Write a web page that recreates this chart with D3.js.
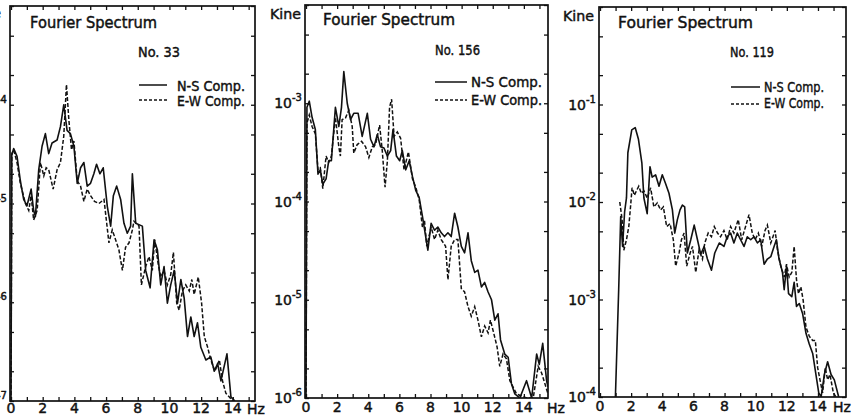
<!DOCTYPE html>
<html>
<head>
<meta charset="utf-8">
<script src="https://cdn.jsdelivr.net/npm/d3@7"></script>
<style>
  body { margin: 0; background: #fff; }
  svg { display: block; }
  text { font-family: "DejaVu Sans", sans-serif; fill: #111; stroke: #111; stroke-width: 0.45px; }
</style>
</head>
<body>
<div id="chart"></div>
<script>
// --- values (frequency in Hz, amplitude in Kine) ---
const xTickLabels = [0, 2, 4, 6, 8, 10, 12, 14];
const stationNames = ["No. 33", "No. 156", "No. 119"];
const seriesNames = ["N-S Comp.", "E-W Comp."];
const decades33 = [-7, -6, -5, -4, -3];
const decades156 = [-6, -5, -4, -3, -2];
const decades119 = [-4, -3, -2, -1, 0];

const ns33Freq = [0, 0.05, 0.17, 0.38, 0.59, 0.80, 1.01, 1.27, 1.43, 1.54, 1.75, 1.96, 2.17, 2.38, 2.59, 2.91, 3.12, 3.33, 3.54, 3.75, 3.97, 4.18, 4.39, 4.60, 4.81, 5.02, 5.23, 5.40, 5.61, 5.82, 6.08, 6.29, 6.46, 6.67, 6.92, 7.13, 7.34, 7.55, 7.66, 7.87, 8.29, 8.50, 8.78, 9.03, 9.24, 9.45, 9.66, 9.87, 10.08, 10.30, 10.51, 10.72, 10.93, 11.14, 11.35, 11.56, 11.77, 11.98, 12.30, 12.61, 12.83, 13.04, 13.25, 13.63, 13.88, 14.13];
const ns33Amp = [1.0e-7, 3.1e-5, 3.6e-5, 3.0e-5, 1.7e-5, 1.1e-5, 9.5e-6, 1.4e-5, 8.5e-6, 7.4e-6, 2.2e-5, 3.8e-5, 5.1e-5, 3.2e-5, 4.1e-5, 4.4e-5, 6.0e-5, 1.0e-4, 5.5e-5, 5.1e-5, 3.8e-5, 1.6e-5, 2.3e-5, 2.6e-5, 1.5e-5, 1.6e-5, 2.0e-5, 2.5e-5, 2.0e-5, 2.3e-5, 9.3e-6, 5.9e-6, 1.2e-5, 1.5e-5, 1.1e-5, 6.3e-6, 5.0e-6, 5.9e-6, 2.0e-5, 6.3e-6, 5.9e-6, 2.1e-6, 1.4e-6, 4.3e-6, 3.4e-6, 1.5e-6, 2.3e-6, 9.8e-7, 1.5e-6, 2.1e-6, 9.8e-7, 1.7e-6, 1.1e-6, 4.5e-7, 7.1e-7, 4.5e-7, 6.2e-7, 3.5e-7, 2.6e-7, 2.8e-7, 2.0e-7, 2.4e-7, 1.6e-7, 3.0e-7, 1.1e-7, 1.0e-7];
const ew33Freq = [0, 0.05, 0.17, 0.38, 0.59, 0.91, 1.12, 1.27, 1.43, 1.65, 1.86, 2.07, 2.22, 2.38, 2.66, 2.91, 3.12, 3.33, 3.50, 3.65, 3.82, 3.97, 4.18, 4.39, 4.60, 4.81, 5.02, 5.27, 5.55, 5.87, 6.18, 6.39, 6.60, 6.81, 7.03, 7.23, 7.45, 7.66, 7.76, 8.08, 8.23, 8.50, 8.71, 8.92, 9.07, 9.28, 9.45, 9.66, 9.87, 10.08, 10.25, 10.46, 10.61, 10.82, 11.03, 11.25, 11.41, 11.56, 11.82, 12.03, 12.20, 12.41, 12.61, 12.87, 13.15, 13.35, 13.56, 13.78, 14.0];
const ew33Amp = [1.0e-7, 3.2e-5, 3.5e-5, 2.6e-5, 1.6e-5, 1.0e-5, 8.5e-6, 1.2e-5, 6.8e-6, 8.5e-6, 2.6e-5, 1.9e-5, 2.3e-5, 2.2e-5, 1.4e-5, 2.2e-5, 2.6e-5, 4.8e-5, 1.6e-4, 7.1e-5, 3.5e-5, 4.3e-5, 1.7e-5, 1.5e-5, 1.05e-5, 1.4e-5, 1.2e-5, 1.05e-5, 1.0e-5, 1.1e-5, 4.0e-6, 5.4e-6, 4.3e-6, 3.4e-6, 2.1e-6, 3.6e-6, 4.0e-6, 5.4e-6, 6.6e-6, 5.9e-6, 1.5e-6, 2.3e-6, 2.9e-6, 2.1e-6, 4.3e-6, 2.5e-6, 1.8e-6, 2.1e-6, 1.5e-6, 1.9e-6, 3.2e-6, 9.8e-7, 8.3e-7, 1.3e-6, 1.5e-6, 1.3e-6, 1.7e-6, 1.2e-6, 1.8e-6, 9.8e-7, 4.5e-7, 3.5e-7, 2.6e-7, 2.0e-7, 2.6e-7, 1.6e-7, 1.2e-7, 1.1e-7, 1.0e-7];

const ns156Freq = [0, 0.06, 0.21, 0.39, 0.60, 0.77, 0.92, 1.08, 1.29, 1.46, 1.63, 1.89, 2.11, 2.28, 2.43, 2.65, 2.86, 3.07, 3.35, 3.61, 3.94, 4.15, 4.37, 4.58, 4.79, 5.01, 5.23, 5.44, 5.59, 5.81, 6.02, 6.19, 6.41, 6.63, 6.84, 7.05, 7.27, 7.48, 7.83, 8.04, 8.26, 8.47, 8.69, 8.90, 9.12, 9.33, 9.55, 9.76, 9.98, 10.19, 10.41, 10.62, 10.84, 11.05, 11.27, 11.48, 11.70, 11.92, 12.13, 12.34, 12.50, 12.77, 12.99, 13.20, 13.42, 13.74, 14.17, 14.50, 14.82, 14.99, 15.21, 15.46, 15.55];
const ns156Amp = [1.0e-6, 9.1e-4, 1.05e-3, 7.2e-4, 5.4e-4, 1.9e-4, 2.1e-4, 1.5e-4, 1.7e-4, 2.6e-4, 2.6e-4, 9.1e-4, 5.8e-4, 9.1e-4, 2.1e-3, 1.0e-3, 6.8e-4, 7.9e-4, 7.9e-4, 4.6e-4, 7.9e-4, 4.3e-4, 3.6e-4, 4.8e-4, 3.6e-4, 3.5e-4, 2.9e-4, 3.3e-4, 5.4e-4, 2.9e-4, 2.6e-4, 3.3e-4, 2.1e-4, 2.6e-4, 1.8e-4, 1.3e-4, 1.1e-4, 7.1e-5, 3.2e-5, 6.0e-5, 5.1e-5, 5.5e-5, 4.8e-5, 4.4e-5, 4.8e-5, 4.4e-5, 7.6e-5, 5.5e-5, 3.5e-5, 3.0e-5, 4.8e-5, 2.5e-5, 1.9e-5, 2.0e-5, 1.35e-5, 1.5e-5, 1.2e-5, 1.0e-5, 6.2e-6, 7.2e-6, 3.9e-6, 2.8e-6, 2.6e-6, 1.4e-6, 1.1e-6, 1.0e-6, 1.5e-6, 1.0e-6, 2.8e-6, 2.2e-6, 3.6e-6, 1.5e-6, 1.3e-6];
const ew156Freq = [0, 0.06, 0.21, 0.39, 0.60, 0.77, 0.92, 1.08, 1.29, 1.46, 1.63, 1.89, 2.11, 2.21, 2.32, 2.54, 2.75, 2.97, 3.07, 3.29, 3.57, 3.83, 4.04, 4.26, 4.47, 4.73, 4.90, 5.08, 5.23, 5.37, 5.50, 5.66, 5.87, 6.08, 6.30, 6.58, 6.84, 7.05, 7.27, 7.48, 7.61, 7.76, 8.04, 8.26, 8.47, 8.69, 8.97, 9.12, 9.33, 9.55, 9.76, 9.98, 10.19, 10.41, 10.62, 10.84, 11.05, 11.27, 11.48, 11.70, 11.85, 12.06, 12.28, 12.45, 12.66, 12.88, 13.10, 13.53, 14.17, 14.60, 14.92, 15.14, 15.35, 15.55];
const ew156Amp = [1.0e-6, 6.3e-4, 7.6e-4, 5.8e-4, 4.9e-4, 2.1e-4, 2.2e-4, 1.35e-4, 2.9e-4, 2.5e-4, 2.9e-4, 7.2e-4, 3.6e-4, 2.9e-4, 6.8e-4, 7.1e-4, 8.5e-4, 5.8e-4, 3.1e-4, 3.8e-4, 4.1e-4, 3.6e-4, 2.8e-4, 3.6e-4, 3.8e-4, 6.0e-4, 3.3e-4, 1.4e-4, 2.6e-4, 9.1e-4, 1.1e-3, 4.6e-4, 5.1e-4, 4.4e-4, 2.1e-4, 3.2e-4, 1.7e-4, 1.4e-4, 1.05e-4, 5.5e-5, 6.5e-5, 3.5e-5, 5.5e-5, 4.1e-5, 5.1e-5, 4.1e-5, 3.5e-5, 1.6e-5, 3.5e-5, 4.1e-5, 4.1e-5, 1.3e-5, 1.2e-5, 8.5e-6, 6.8e-6, 8.5e-6, 6.2e-6, 4.2e-6, 5.4e-6, 4.6e-6, 6.2e-6, 4.6e-6, 3.3e-6, 2.1e-6, 2.8e-6, 2.5e-6, 1.5e-6, 1.1e-6, 1.0e-6, 1.0e-6, 2.1e-6, 1.8e-6, 1.4e-6, 1.1e-6];

const ns119Freq = [0.99, 1.20, 1.33, 1.45, 1.58, 1.70, 1.79, 2.04, 2.26, 2.47, 2.69, 2.82, 3.03, 3.21, 3.35, 3.57, 3.79, 4.00, 4.21, 4.43, 4.65, 4.80, 4.97, 5.14, 5.29, 5.44, 5.61, 5.83, 6.05, 6.26, 6.47, 6.69, 6.90, 7.16, 7.37, 7.66, 7.96, 8.17, 8.39, 8.60, 8.82, 9.03, 9.25, 9.46, 9.68, 9.89, 10.11, 10.32, 10.54, 10.75, 10.97, 11.18, 11.33, 11.50, 11.72, 11.83, 11.98, 12.11, 12.32, 12.47, 12.62, 12.80, 13.01, 13.23, 13.44, 13.66, 13.87, 14.05, 14.20, 14.41, 14.62, 14.84, 15.05, 15.33];
const ns119Amp = [1.0e-4, 1.26e-3, 7.1e-3, 3.5e-3, 7.9e-3, 1.1e-2, 3.2e-2, 5.5e-2, 5.8e-2, 4.4e-2, 2.5e-2, 1.1e-2, 7.6e-3, 2.3e-2, 1.8e-2, 1.9e-2, 1.45e-2, 1.9e-2, 1.55e-2, 1.23e-2, 8.3e-3, 4.8e-3, 6.6e-3, 8.3e-3, 9.3e-3, 8.9e-3, 3.0e-3, 4.1e-3, 5.8e-3, 4.1e-3, 2.9e-3, 3.5e-3, 2.6e-3, 2.0e-3, 3.0e-3, 3.8e-3, 3.5e-3, 4.4e-3, 4.8e-3, 3.8e-3, 4.8e-3, 4.1e-3, 3.5e-3, 4.4e-3, 4.1e-3, 4.4e-3, 3.8e-3, 4.1e-3, 2.3e-3, 2.6e-3, 2.75e-3, 3.5e-3, 4.1e-3, 2.6e-3, 1.9e-3, 1.26e-3, 2.2e-3, 1.15e-3, 1.07e-3, 1.5e-3, 8.5e-4, 9.1e-4, 7.2e-4, 4.5e-4, 3.5e-4, 2.8e-4, 1.7e-4, 1.1e-4, 1.0e-4, 1.7e-4, 2.3e-4, 1.7e-4, 1.5e-4, 1.0e-4];
const ew119Freq = [1.27, 1.42, 1.53, 1.70, 1.85, 1.96, 2.06, 2.21, 2.34, 2.49, 2.65, 2.82, 3.03, 3.25, 3.46, 3.68, 3.89, 4.07, 4.28, 4.50, 4.71, 4.86, 5.08, 5.23, 5.40, 5.57, 5.79, 5.94, 6.15, 6.36, 6.58, 6.73, 6.95, 7.16, 7.34, 7.55, 7.74, 7.96, 8.17, 8.39, 8.60, 8.88, 9.10, 9.35, 9.57, 9.78, 9.96, 10.17, 10.39, 10.60, 10.75, 10.97, 11.25, 11.40, 11.61, 11.83, 11.98, 12.15, 12.32, 12.47, 12.62, 12.75, 12.90, 13.05, 13.23, 13.44, 13.66, 13.83, 13.98, 14.13, 14.30, 14.47, 14.62, 14.77, 14.99, 15.16];
const ew119Amp = [1.0e-2, 6.6e-3, 3.2e-3, 4.1e-3, 5.6e-3, 8.9e-3, 1.4e-2, 1.17e-2, 1.3e-2, 1.45e-2, 1.23e-2, 1.3e-2, 1.1e-2, 1.4e-2, 8.9e-3, 9.8e-3, 8.3e-3, 8.9e-3, 5.6e-3, 6.0e-3, 4.1e-3, 2.2e-3, 3.0e-3, 4.1e-3, 4.8e-3, 2.2e-3, 3.0e-3, 3.5e-3, 1.9e-3, 3.2e-3, 2.6e-3, 3.8e-3, 4.8e-3, 4.4e-3, 5.6e-3, 4.8e-3, 4.4e-3, 5.1e-3, 4.1e-3, 5.6e-3, 4.8e-3, 6.6e-3, 4.1e-3, 5.6e-3, 7.4e-3, 4.8e-3, 4.1e-3, 4.8e-3, 3.5e-3, 5.1e-3, 5.8e-3, 3.8e-3, 5.1e-3, 3.2e-3, 2.2e-3, 1.7e-3, 2.3e-3, 1.7e-3, 1.9e-3, 3.5e-3, 1.6e-3, 1.15e-3, 1.35e-3, 9.8e-4, 5.2e-4, 4.2e-4, 3.8e-4, 3.8e-4, 2.0e-4, 1.5e-4, 1.1e-4, 2.0e-4, 1.5e-4, 1.7e-4, 1.1e-4, 1.0e-4];

// --- panel geometry (pixels) ---
const panels = [
  { name: stationNames[0], decades: decades33, ns: d3.zip(ns33Freq, ns33Amp), ew: d3.zip(ew33Freq, ew33Amp),
    l: 10, r: 255, t: 6, b: 401, x0: 11, xMax: 15.4,
    title: [30, 28, 127], no: [138, 57, 42], leg: [139, 167, 85, 100, 177, 91, 106, 68], kine: [-30, 18], hz: [247, 414], tickY: 402 },
  { name: stationNames[1], decades: decades156, ns: d3.zip(ns156Freq, ns156Amp), ew: d3.zip(ew156Freq, ew156Amp),
    l: 305, r: 548, t: 5, b: 398, x0: 306, xMax: 15.55,
    title: [323, 25, 132], no: [435, 55, 45], leg: [435, 467, 82, 100, 471, 87, 105, 71], kine: [270, 19], hz: [547, 413], tickY: 401 },
  { name: stationNames[2], decades: decades119, ns: d3.zip(ns119Freq, ns119Amp), ew: d3.zip(ew119Freq, ew119Amp),
    l: 599, r: 846, t: 7, b: 397, x0: 600, xMax: 15.8,
    title: [618, 28, 135], no: [730, 57, 44], leg: [731, 760, 87, 104, 764, 92, 108, 60], kine: [563, 21], hz: [833, 412], tickY: 400 }
];

const svg = d3.select("#chart").append("svg")
  .attr("width", 854)
  .attr("height", 415);

panels.forEach((p, i) => {
  const top = p.decades[p.decades.length - 1];
  const x = d3.scaleLinear().domain([0, p.xMax]).range([p.x0, p.r]);
  const y = d3.scaleLog().domain([10 ** p.decades[0], 10 ** top]).range([p.b, p.t]);

  const g = svg.append("g");

  svg.append("clipPath").attr("id", "clip" + i)
    .append("rect").attr("x", p.l).attr("y", p.t).attr("width", p.r - p.l).attr("height", p.b - p.t);

  // y ticks at 1, 2, 5 per decade
  const yTicks = [];
  p.decades.forEach(d => [1, 2, 5].forEach(m => {
    if (d < top || m === 1) yTicks.push(m * 10 ** d);
  }));
  const hzTicks = d3.range(0, Math.floor(p.xMax) + 1);

  g.append("g").attr("transform", `translate(0,${p.b})`)
    .call(d3.axisBottom(x).tickValues(hzTicks).tickSize(-4).tickFormat(""))
    .call(a => a.select(".domain").remove());
  g.append("g").attr("transform", `translate(0,${p.t})`)
    .call(d3.axisTop(x).tickValues(hzTicks).tickSize(-4).tickFormat(""))
    .call(a => a.select(".domain").remove());
  g.append("g").attr("transform", `translate(${p.l},0)`)
    .call(d3.axisLeft(y).tickValues(yTicks).tickSize(-4).tickFormat(""))
    .call(a => a.select(".domain").remove());
  g.append("g").attr("transform", `translate(${p.r},0)`)
    .call(d3.axisRight(y).tickValues(yTicks).tickSize(-4).tickFormat(""))
    .call(a => a.select(".domain").remove());
  g.selectAll(".tick line").attr("stroke", "#111").attr("stroke-width", 1.3);

  // frame
  g.append("rect")
    .attr("x", p.l).attr("y", p.t)
    .attr("width", p.r - p.l).attr("height", p.b - p.t)
    .attr("fill", "none").attr("stroke", "#111").attr("stroke-width", 1.7);

  // x labels
  g.selectAll(".xl").data(xTickLabels).enter().append("text")
    .attr("x", d => x(d))
    .attr("y", p.tickY)
    .attr("dy", "0.8em")
    .attr("text-anchor", "middle")
    .style("font-size", "14px")
    .text(d => d);
  g.append("text").attr("x", p.hz[0]).attr("y", p.hz[1])
    .style("font-size", "14px").text("Hz");

  // y labels (the top decade is left unlabelled, as in the figure)
  const yl = g.selectAll(".yl").data(p.decades.slice(0, -1)).enter().append("text")
    .attr("x", p.l - 3)
    .attr("y", d => y(10 ** d) + 5)
    .attr("text-anchor", "end")
    .style("font-size", "14px");
  yl.append("tspan").text("10");
  yl.append("tspan").attr("dy", -7).style("font-size", "10px").text(d => "-" + Math.abs(d));

  g.append("text").attr("x", p.kine[0]).attr("y", p.kine[1])
    .attr("textLength", 31).attr("lengthAdjust", "spacingAndGlyphs")
    .style("font-size", "14px").text("Kine");

  // curves
  const line = d3.line().x(d => x(d[0])).y(d => y(d[1]));
  const curves = g.append("g").attr("clip-path", `url(#clip${i})`);
  curves.append("path").datum(p.ns)
    .attr("d", line).attr("fill", "none")
    .attr("stroke", "#111").attr("stroke-width", 1.6).attr("stroke-linejoin", "round");
  curves.append("path").datum(p.ew)
    .attr("d", line).attr("fill", "none")
    .attr("stroke", "#111").attr("stroke-width", 1.5).attr("stroke-dasharray", "4,2");

  // titles
  g.append("text").attr("x", p.title[0]).attr("y", p.title[1])
    .attr("textLength", p.title[2]).attr("lengthAdjust", "spacingAndGlyphs")
    .style("font-size", "15px").text("Fourier Spectrum");
  g.append("text").attr("x", p.no[0]).attr("y", p.no[1])
    .attr("textLength", p.no[2]).attr("lengthAdjust", "spacingAndGlyphs")
    .style("font-size", "14px").text(p.name);

  // legend
  const [lx1, lx2, ly1, ly2, tx, ty1, ty2, tl] = p.leg;
  g.append("line").attr("x1", lx1).attr("x2", lx2).attr("y1", ly1).attr("y2", ly1)
    .attr("stroke", "#111").attr("stroke-width", 1.5);
  g.append("line").attr("x1", lx1).attr("x2", lx2).attr("y1", ly2).attr("y2", ly2)
    .attr("stroke", "#111").attr("stroke-width", 1.4).attr("stroke-dasharray", "3,2");
  g.append("text").attr("x", tx).attr("y", ty1)
    .attr("textLength", tl).attr("lengthAdjust", "spacingAndGlyphs")
    .style("font-size", "14px").text(seriesNames[0]);
  g.append("text").attr("x", tx).attr("y", ty2)
    .attr("textLength", tl).attr("lengthAdjust", "spacingAndGlyphs")
    .style("font-size", "14px").text(seriesNames[1]);
});
</script>
</body>
</html>
